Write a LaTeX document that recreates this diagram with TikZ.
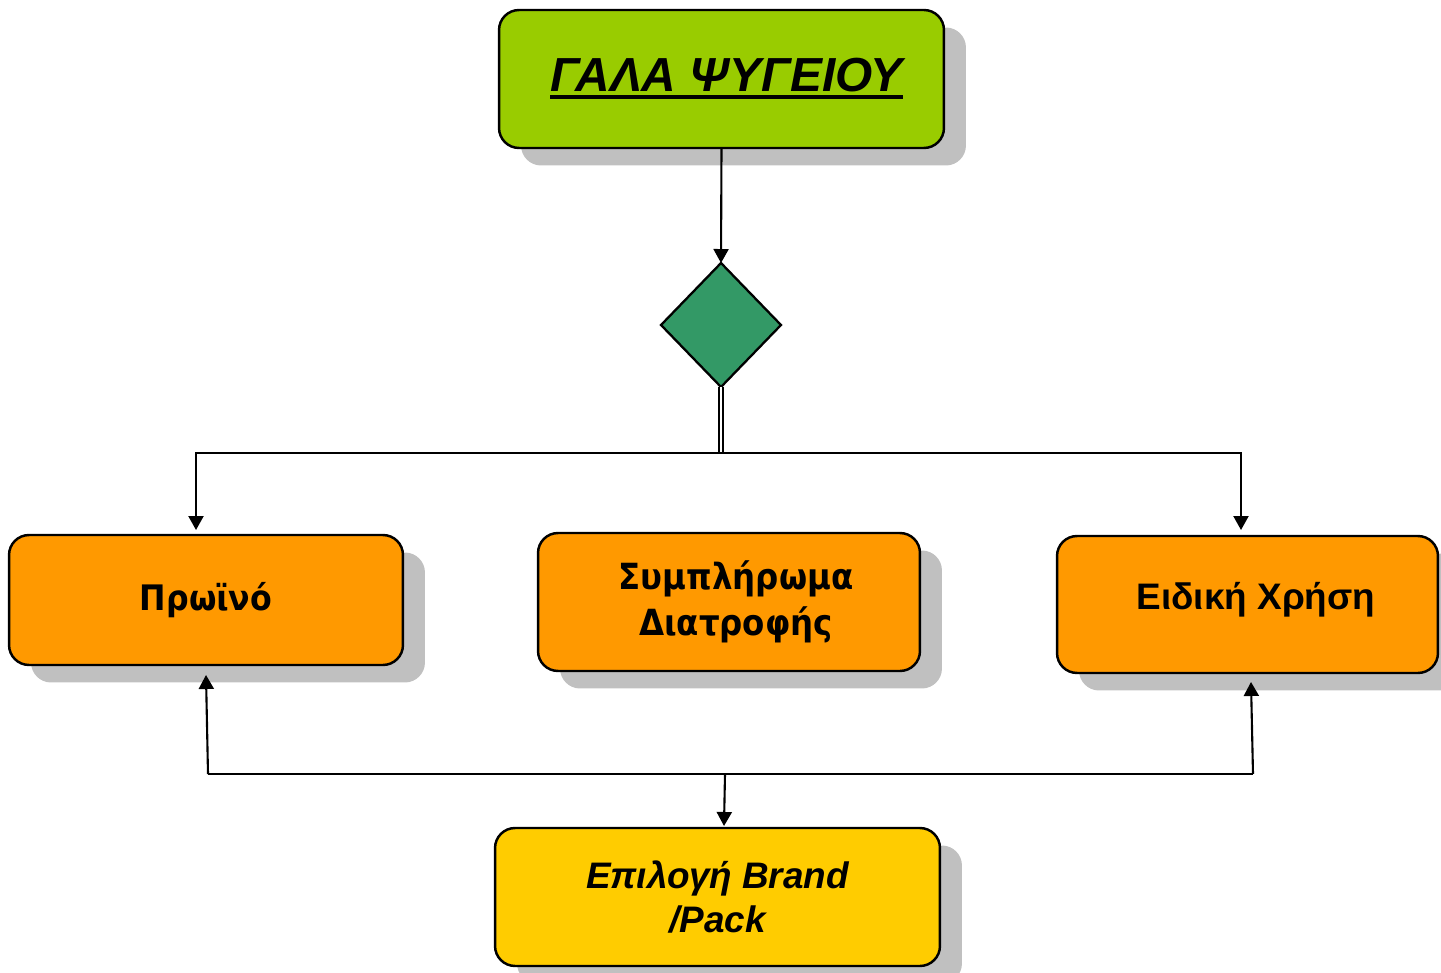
\documentclass[tikz,border=0pt]{standalone}
\usepackage{fontspec}
\setmainfont{Liberation Sans}
\newfontfamily\verdfont[FakeStretch=0.9]{DejaVu Sans}
\usepackage{tikz}
\usetikzlibrary{calc,shapes.geometric,shadows,arrows.meta}

\definecolor{milkgreen}{HTML}{99CC00}
\definecolor{decgreen}{HTML}{339966}
\definecolor{boxorange}{HTML}{FF9900}
\definecolor{boxyellow}{HTML}{FFCC00}
\definecolor{shadowgrey}{HTML}{C0C0C0}

\newcommand{\ulbox}[1]{\setbox0\hbox{#1}\rlap{\rule[-0.15cm]{\wd0}{0.08cm}}\box0}

\begin{document}
\begin{tikzpicture}[x=0.02cm,y=-0.02cm,every node/.style={outer sep=0pt}]
\tikzstyle{box}=[draw,line width=1.4pt,rounded corners=0.4cm,align=center,drop shadow={shadow xshift=0.44cm,shadow yshift=-0.35cm,fill=shadowgrey,opacity=1}]
\tikzstyle{arr}=[line width=1.2pt,-{Triangle[length=0.28cm,width=0.3cm]}]
\tikzstyle{conn}=[line width=1.2pt]

\useasboundingbox (0,0) rectangle (1441,973);

\node (top_node) at (721.5,79) [box,fill=milkgreen,minimum width=8.9cm,minimum height=2.76cm,font=\fontsize{27.2}{33}\selectfont\bfseries\itshape] {\hspace*{0.2cm}\raisebox{0.08cm}{\ulbox{ΓΑΛΑ ΨΥΓΕΙΟΥ}}};
\node (dec_node) at (721,325) [diamond,draw,line width=1.3pt,fill=decgreen,minimum width=2.4cm,minimum height=2.48cm,inner sep=0pt] {};

\node (bfast_node) at (206,600) [box,fill=boxorange,minimum width=7.88cm,minimum height=2.6cm,font=\verdfont\fontsize{20}{23}\selectfont\bfseries] {Πρωϊνό};
\node (supp_node) at (729,602) [box,fill=boxorange,minimum width=7.64cm,minimum height=2.76cm,font=\verdfont\fontsize{20.5}{26}\selectfont\bfseries] {\hspace*{0.28cm}Συμπλήρωμα\\\hspace*{0.28cm}Διατροφής};
\node (use_node) at (1247.5,604.5) [box,fill=boxorange,minimum width=7.62cm,minimum height=2.74cm,font=\fontsize{21}{25}\selectfont\bfseries] {\hspace*{0.34cm}\raisebox{0.34cm}{Ειδική Χρήση}};
\node (brand_node) at (717.5,897) [box,fill=boxyellow,minimum width=8.9cm,minimum height=2.76cm,font=\fontsize{21}{25}\selectfont\bfseries\itshape] {Επιλογή Brand\\/Pack};

% split below the decision
\coordinate (fork) at (721,453);
\draw [arr] (top_node.south) -- (dec_node.north);
\draw [conn,double,double distance=1.2pt] (dec_node.south) -- (fork);
\draw [arr] (fork) -| ([xshift=-0.2cm,yshift=0.1cm]bfast_node.north);
\draw [arr] (fork) -| ([xshift=-0.13cm,yshift=0.12cm]use_node.north);

% join above the brand box
\coordinate (join) at (725,774);
\coordinate (join_l) at (208,774);
\coordinate (join_r) at (1253,774);
\draw [conn] (join_l) -- (join_r);
\draw [arr] (join_l) -- ([yshift=-0.2cm]bfast_node.south);
\draw [arr] (join_r) -- ([xshift=0.07cm,yshift=-0.18cm]use_node.south);
\draw [arr] (join) -- ([xshift=0.13cm,yshift=0.04cm]brand_node.north);

\end{tikzpicture}
\end{document}
